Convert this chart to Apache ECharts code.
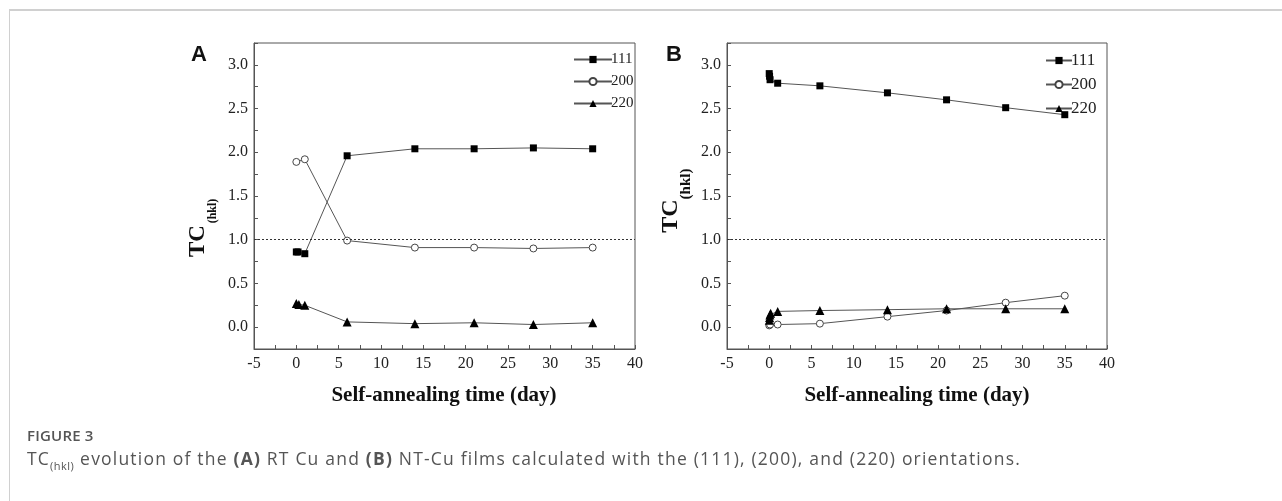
<!DOCTYPE html>
<html>
<head>
<meta charset="utf-8">
<script src="https://cdn.jsdelivr.net/npm/echarts@6/dist/echarts.min.js"></script>
<style>
	body { margin: 0; background: #fff; }
	#frame { position: absolute; left: 9px; top: 9px; width: 1290px; height: 520px;
		border-top: 2px solid #d0d0d0; border-left: 1px solid #d0d0d0; }
	#main { position: absolute; left: 0; top: 0; width: 1282px; height: 501px; }
	.cap-title { position: absolute; left: 27px; top: 425px; font-family: "Open Sans", sans-serif;
		font-size: 15px; font-weight: 600; color: #555; letter-spacing: 0.2px; }
	.cap-text { position: absolute; left: 27px; top: 446px; font-family: "Open Sans", sans-serif;
		font-size: 17.5px; color: #555; letter-spacing: 1.2px; white-space: nowrap; }
	.cap-text sub { font-size: 11px; letter-spacing: 0.5px; }
</style>
</head>
<body>
<div id="frame"></div>
<div id="main"></div>
<div class="cap-title">FIGURE 3</div>
<div class="cap-text">TC<sub>(hkl)</sub> evolution of the <b>(A)</b> RT Cu and <b>(B)</b> NT-Cu films calculated with the (111), (200), and (220) orientations.</div>
<script>
// 刻度
var xTicks = [-5, 0, 5, 10, 15, 20, 25, 30, 35, 40];
var yTicks = [0, 0.5, 1.0, 1.5, 2.0, 2.5, 3.0];
var seriesNames = ['111', '200', '220'];

// (A) RT Cu
var a111 = [[0, 0.86], [0.2, 0.86], [1, 0.84], [6, 1.96], [14, 2.04], [21, 2.04], [28, 2.05], [35, 2.04]];
var a200 = [[0, 1.89], [1, 1.92], [6, 0.99], [14, 0.91], [21, 0.91], [28, 0.90], [35, 0.91]];
var a220 = [[0, 0.27], [0.3, 0.26], [1, 0.25], [6, 0.06], [14, 0.04], [21, 0.05], [28, 0.03], [35, 0.05]];

// (B) NT-Cu
var b111 = [[0, 2.90], [0.04, 2.87], [0.1, 2.83], [1, 2.79], [6, 2.76], [14, 2.68], [21, 2.60], [28, 2.51], [35, 2.43]];
var b200 = [[0, 0.02], [0.1, 0.03], [1, 0.03], [6, 0.04], [14, 0.12], [21, 0.19], [28, 0.28], [35, 0.36]];
var b220 = [[0, 0.08], [0.04, 0.11], [0.08, 0.14], [0.17, 0.16], [1, 0.18], [6, 0.19], [14, 0.20], [21, 0.21], [28, 0.21], [35, 0.21]];

var serif = '"Liberation Serif", "Times New Roman", serif';

function makeX(gridIndex) {
	return {
		type : 'value',
		gridIndex : gridIndex,
		min : -5,
		max : 40,
		interval : 2.5,
		axisLine : { onZero : false, lineStyle : { color : '#555', width : 1 } },
		axisTick : { inside : true, length : 4, lineStyle : { color : '#555' } },
		axisLabel : { customValues : xTicks, margin : 7, fontFamily : serif, fontSize : 16, color : '#222' },
		splitLine : { show : false }
	};
}

function makeY(gridIndex) {
	return {
		type : 'value',
		gridIndex : gridIndex,
		min : -0.25,
		max : 3.25,
		interval : 0.25,
		axisLine : { show : true, onZero : false, lineStyle : { color : '#555', width : 1 } },
		axisTick : { show : true, inside : true, length : 4, lineStyle : { color : '#555' } },
		axisLabel : {
			customValues : yTicks,
			margin : 6,
			fontFamily : serif,
			fontSize : 16,
			color : '#222',
			formatter : function(v) { return v.toFixed(1); }
		},
		splitLine : { show : false }
	};
}

// 单条系列
function makeSeries(name, data, idx, symbol) {
	var s = {
		name : name,
		type : 'line',
		xAxisIndex : idx,
		yAxisIndex : idx,
		data : data,
		symbol : symbol,
		symbolSize : symbol == 'triangle' ? 9 : 7,
		lineStyle : { color : '#555', width : 1 },
		itemStyle : { color : '#000', borderColor : '#000', borderWidth : 0 },
		animation : false
	};
	if (symbol == 'circle') {
		s.symbolSize = 7;
		s.itemStyle = { color : '#fff', borderColor : '#444', borderWidth : 1 };
	}
	return s;
}

function makeLegend(left, fontSize, itemWidth) {
	return {
		orient : 'vertical',
		left : left,
		top : 47,
		itemWidth : itemWidth,
		itemHeight : 9,
		itemGap : 7,
		data : seriesNames,
		textStyle : { fontFamily : serif, fontSize : fontSize, color : '#222', padding : [0, 0, 0, -6] },
		selectedMode : false
	};
}

var dotted = {
	silent : true,
	symbol : 'none',
	label : { show : false },
	lineStyle : { type : [2, 2], color : '#333', width : 1 },
	data : [ { yAxis : 1 } ]
};

var chart = echarts.init(document.getElementById('main'));

var series = [
	makeSeries('111', a111, 0, 'rect'),
	makeSeries('200', a200, 0, 'circle'),
	makeSeries('220', a220, 0, 'triangle'),
	makeSeries('111', b111, 1, 'rect'),
	makeSeries('200', b200, 1, 'circle'),
	makeSeries('220', b220, 1, 'triangle')
];
series[0].markLine = dotted;
series[3].markLine = dotted;

var option = {
	animation : false,
	grid : [
		{ left : 254, top : 43, width : 381, height : 306, show : true, borderColor : '#555', borderWidth : 1 },
		{ left : 727, top : 43, width : 380, height : 306, show : true, borderColor : '#555', borderWidth : 1 }
	],
	xAxis : [ makeX(0), makeX(1) ],
	yAxis : [ makeY(0), makeY(1) ],
	legend : [ makeLegend(568, 15, 38), makeLegend(1040, 17, 26) ],
	graphic : [
		// 面板字母
		{ type : 'text', x : 191, y : 44, style : { text : 'A', font : 'bold 22px "Liberation Sans", Arial, sans-serif', fill : '#111' } },
		{ type : 'text', x : 666, y : 44, style : { text : 'B', font : 'bold 22px "Liberation Sans", Arial, sans-serif', fill : '#111' } },
		// y轴标题
		{ type : 'text', x : 198, y : 241, rotation : Math.PI / 2,
			style : { text : 'TC', font : 'bold 23px ' + serif, fill : '#111', align : 'center', verticalAlign : 'middle' } },
		{ type : 'text', x : 213, y : 211, rotation : Math.PI / 2,
			style : { text : '(hkl)', font : 'bold 12px ' + serif, fill : '#111', align : 'center', verticalAlign : 'middle' } },
		{ type : 'text', x : 671, y : 216, rotation : Math.PI / 2,
			style : { text : 'TC', font : 'bold 24px ' + serif, fill : '#111', align : 'center', verticalAlign : 'middle' } },
		{ type : 'text', x : 686, y : 184, rotation : Math.PI / 2,
			style : { text : '(hkl)', font : 'bold 15px ' + serif, fill : '#111', align : 'center', verticalAlign : 'middle' } },
		// x轴标题
		{ type : 'text', x : 444, y : 396,
			style : { text : 'Self-annealing time (day)', font : 'bold 21px ' + serif, fill : '#111', align : 'center', verticalAlign : 'middle' } },
		{ type : 'text', x : 917, y : 396,
			style : { text : 'Self-annealing time (day)', font : 'bold 21px ' + serif, fill : '#111', align : 'center', verticalAlign : 'middle' } }
	],
	series : series
};

chart.setOption(option);
</script>
</body>
</html>
